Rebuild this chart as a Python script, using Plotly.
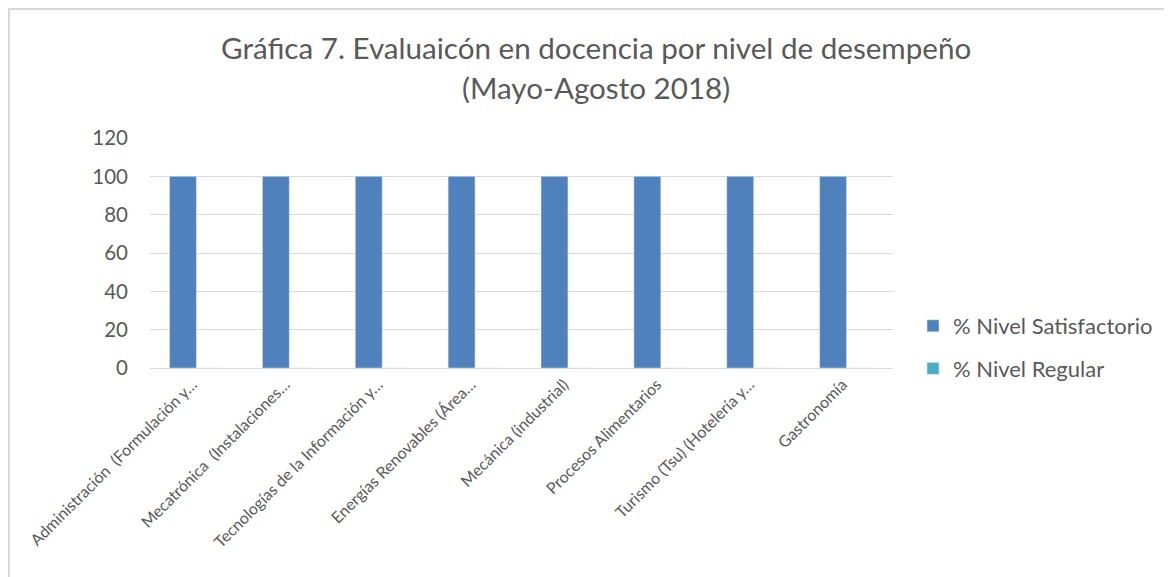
import plotly.graph_objects as go

categories = [
    "Administración  (Formulación y…",
    "Mecatrónica  (Instalaciones…",
    "Tecnologías de la Información y…",
    "Energías Renovables (Área…",
    "Mecánica (industrial)",
    "Procesos Alimentarios",
    "Turismo (Tsu) (Hotelería y…",
    "Gastronomía",
]
satisfactorio = [100, 100, 100, 100, 100, 100, 100, 100]
regular = [0, 0, 0, 0, 0, 0, 0, 0]
series_names = ["% Nivel Satisfactorio", "% Nivel Regular"]
title_lines = ["Gráfica 7. Evaluaicón en docencia por nivel de desempeño",
               "(Mayo-Agosto 2018)"]

FONT = "Lato"
GRAY = "#595959"

fig = go.Figure()
fig.add_trace(go.Bar(x=categories, y=satisfactorio, name=series_names[0],
                     marker_color="#4F81BD", legendgroup="a"))
fig.add_trace(go.Bar(x=categories, y=regular, name=series_names[1],
                     marker_color="#4BACC6", legendgroup="b"))

# page body has an 8px margin; work in window pixels and convert
OFF = 8
W, H = 1164, 569
L, T = 150 - OFF, 138 - OFF
PW, PH = 743, 230
R = W - L - PW
B = H - T - PH


def px_x(wx):
    return (wx - OFF - L) / PW


def px_y(wy):
    return (T + PH - (wy - OFF)) / PH


annotations = [
    dict(text=title_lines[0], xref="paper", yref="paper", x=px_x(596), y=px_y(47),
         xanchor="center", yanchor="middle", showarrow=False,
         font=dict(size=29.6, color=GRAY, family=FONT)),
    dict(text=title_lines[1], xref="paper", yref="paper", x=px_x(596), y=px_y(88),
         xanchor="center", yanchor="middle", showarrow=False,
         font=dict(size=29.6, color=GRAY, family=FONT)),
]

fig.update_layout(
    width=W, height=H,
    margin=dict(l=L, r=R, t=T, b=B, pad=0),
    paper_bgcolor="white", plot_bgcolor="white",
    font=dict(family=FONT, color=GRAY),
    barmode="group", bargap=0.42, bargroupgap=0,
    annotations=annotations,
    xaxis=dict(tickangle=-45, tickfont=dict(size=16, color=GRAY),
               showline=True, linecolor="#D9D9D9", linewidth=1,
               ticks="", showgrid=False, ticklabelshift=-4),
    yaxis=dict(range=[0, 120], dtick=20, tickfont=dict(size=20.5, color=GRAY),
               gridcolor="#D9D9D9", gridwidth=1, zeroline=False,
               showline=False, ticks="", ticklabelstandoff=21),
    legend=dict(x=px_x(913), xanchor="left", y=px_y(305), yanchor="top",
                font=dict(size=22, color=GRAY), traceorder="grouped",
                tracegroupgap=11, itemwidth=30),
    showlegend=True,
    shapes=[
        dict(type="line", xref="paper", yref="paper",
             x0=px_x(OFF), x1=px_x(OFF + W), y0=px_y(OFF + 1), y1=px_y(OFF + 1),
             line=dict(color="#D9D9D9", width=2)),
        dict(type="line", xref="paper", yref="paper",
             x0=px_x(OFF + 1), x1=px_x(OFF + 1), y0=px_y(OFF), y1=px_y(OFF + H),
             line=dict(color="#D9D9D9", width=2)),
    ],
)

fig.write_html("out.html")
